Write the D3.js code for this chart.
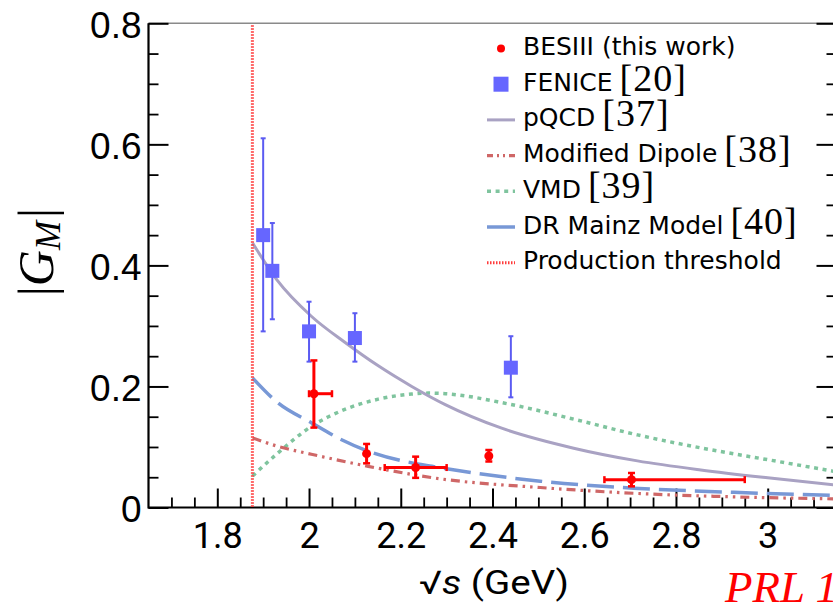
<!DOCTYPE html>
<html><head><meta charset="utf-8">
<script src="https://cdn.jsdelivr.net/npm/d3@7"></script>
<style>body{margin:0;background:#fff}svg{display:block}</style>
</head><body>
<svg id="chart" width="833" height="608"></svg>
<script>
// ---------- data ----------
const besX   = [2.0106, 2.1255, 2.2324, 2.3920, 2.7030];
const besY   = [0.188, 0.089, 0.066, 0.085, 0.046];
const besYlo = [0.132, 0.073, 0.049, 0.076, 0.035];
const besYhi = [0.243, 0.105, 0.084, 0.095, 0.057];
const besXlo = [2.000, 2.1255, 2.165, 2.392, 2.644];
const besXhi = [2.050, 2.1255, 2.300, 2.392, 2.950];

const fenX   = [1.90, 1.92, 2.00, 2.10, 2.44];
const fenY   = [0.450, 0.391, 0.291, 0.280, 0.231];
const fenYlo = [0.291, 0.311, 0.241, 0.241, 0.182];
const fenYhi = [0.610, 0.470, 0.340, 0.321, 0.283];

const pqcdX = [1.877, 1.93, 2.005, 2.078, 2.151, 2.224, 2.297, 2.42, 2.577, 2.716, 2.854, 3.0, 3.15];
const pqcdY = [0.437, 0.376, 0.316, 0.273, 0.234, 0.200, 0.170, 0.131, 0.098, 0.077, 0.062, 0.049, 0.037];

const dipX = [1.877, 1.932, 2.005, 2.129, 2.29, 2.504, 2.708, 2.926, 3.15];
const dipY = [0.115, 0.101, 0.088, 0.068, 0.047, 0.033, 0.0235, 0.0176, 0.0142];

const vmdX = [1.877, 1.932, 2.005, 2.078, 2.151, 2.224, 2.26, 2.297, 2.432, 2.577, 2.716, 2.854, 3.0, 3.15];
const vmdY = [0.052, 0.090, 0.134, 0.162, 0.179, 0.1875, 0.189, 0.188, 0.1715, 0.146, 0.120, 0.0985, 0.079, 0.059];

const drX = [1.877, 1.932, 2.005, 2.071, 2.129, 2.268, 2.30, 2.504, 2.708, 2.926, 3.15];
const drY = [0.214, 0.173, 0.140, 0.112, 0.093, 0.068, 0.064, 0.0435, 0.032, 0.025, 0.020];

const threshold = 1.8765;

const xTicks = [1.8, 2.0, 2.2, 2.4, 2.6, 2.8, 3.0];
const xTickLabels = ["1.8", "2", "2.2", "2.4", "2.6", "2.8", "3"];
const yTicks = [0, 0.2, 0.4, 0.6, 0.8];
const yTickLabels = ["0", "0.2", "0.4", "0.6", "0.8"];

const legendLabels = ["BESIII (this work)", "FENICE", "pQCD", "Modified Dipole", "VMD", "DR Mainz Model", "Production threshold"];
const legendRefs = ["", "[20]", "[37]", "[38]", "[39]", "[40]", ""];

// ---------- drawing ----------
const svg = d3.select("#chart");
const x = d3.scaleLinear().domain([1.65, 3.15]).range([148.5, 836.5]);
const y = d3.scaleLinear().domain([0, 0.8]).range([507.5, 23.3]);

const xMinor = d3.range(1.70, 3.151, 0.05).filter(v => !xTicks.some(t => Math.abs(t - v) < 1e-6));
const yMinor = d3.range(0.05, 0.8, 0.05).filter(v => !yTicks.some(t => Math.abs(t - v) < 1e-6));

svg.append("defs").append("clipPath").attr("id", "plot")
  .append("rect").attr("x", x(1.65)).attr("y", y(0.8)).attr("width", x(3.15) - x(1.65)).attr("height", y(0) - y(0.8));

const styleTicks = (g, w) => { g.select(".domain").remove(); g.selectAll(".tick line").attr("stroke", "#000").attr("stroke-width", w); };

// top frame line
svg.append("line").attr("x1", x(1.65)).attr("x2", x(3.15)).attr("y1", y(0.8)).attr("y2", y(0.8))
  .attr("stroke", "#8a8a8a").attr("stroke-width", 1.6);

// bottom axis
const gxMin = svg.append("g").attr("transform", `translate(0,${y(0)})`)
  .call(d3.axisBottom(x).tickValues(xMinor).tickSize(-10).tickFormat(""));
styleTicks(gxMin, 1.8);
const gxMaj = svg.append("g").attr("transform", `translate(0,${y(0)})`)
  .call(d3.axisBottom(x).tickValues(xTicks).tickSize(-19).tickPadding(15)
    .tickFormat((d, i) => xTickLabels[i]));
styleTicks(gxMaj, 2);
gxMaj.selectAll("text").attr("font-family", "Roboto, sans-serif").attr("font-size", 36).attr("fill", "#000");

// left axis
const gyMin = svg.append("g").attr("transform", `translate(${x(1.65)},0)`)
  .call(d3.axisLeft(y).tickValues(yMinor).tickSize(-10).tickFormat(""));
styleTicks(gyMin, 1.8);
const gyMaj = svg.append("g").attr("transform", `translate(${x(1.65)},0)`)
  .call(d3.axisLeft(y).tickValues(yTicks).tickSize(-20).tickPadding(7)
    .tickFormat((d, i) => yTickLabels[i]));
styleTicks(gyMaj, 2);
gyMaj.selectAll("text").attr("font-family", "'Liberation Sans', Arial, sans-serif").attr("font-size", 37)
  .attr("fill", "#000").attr("dy", "0.37em");

// right axis ticks
const gyR1 = svg.append("g").attr("transform", `translate(${x(3.15)},0)`)
  .call(d3.axisRight(y).tickValues(yMinor).tickSize(-10).tickFormat(""));
styleTicks(gyR1, 1.8);
const gyR2 = svg.append("g").attr("transform", `translate(${x(3.15)},0)`)
  .call(d3.axisRight(y).tickValues(yTicks).tickSize(-20).tickFormat(""));
styleTicks(gyR2, 2);

// axis lines
svg.append("line").attr("x1", x(1.65)).attr("x2", x(3.15)).attr("y1", y(0)).attr("y2", y(0))
  .attr("stroke", "#000").attr("stroke-width", 2.2);
svg.append("line").attr("x1", x(1.65)).attr("x2", x(1.65)).attr("y1", y(0) + 1).attr("y2", y(0.8))
  .attr("stroke", "#000").attr("stroke-width", 2.2);

// curves
const plot = svg.append("g").attr("clip-path", "url(#plot)");
const line = d3.line().x(d => x(d[0])).y(d => y(d[1])).curve(d3.curveMonotoneX);
const curves = [
  {xs: vmdX, ys: vmdY, color: "#7fc49e", w: 3.5, dash: "4,4.6"},
  {xs: pqcdX, ys: pqcdY, color: "#a9a2c3", w: 3, dash: null},
  {xs: dipX, ys: dipY, color: "#cf6767", w: 3.2, dash: "9,5,2.5,5,2.5,5"},
  {xs: drX, ys: drY, color: "#7898d6", w: 3.5, dash: "27,9"}
];
curves.forEach(c => {
  const p = plot.append("path").datum(c.xs.map((v, i) => [v, c.ys[i]]))
    .attr("d", line).attr("fill", "none").attr("stroke", c.color).attr("stroke-width", c.w);
  if (c.dash) p.attr("stroke-dasharray", c.dash);
});

// threshold line
plot.append("line").attr("x1", x(threshold)).attr("x2", x(threshold)).attr("y1", y(0.8) + 2).attr("y2", y(0))
  .attr("stroke", "#ff3b3b").attr("stroke-width", 3).attr("stroke-dasharray", "1.5,1.5");

// FENICE points
const fenColor = "#6666ff", fenBar = "#5b5bf2";
fenX.forEach((xv, i) => {
  const g = svg.append("g");
  g.append("line").attr("x1", x(xv)).attr("x2", x(xv)).attr("y1", y(fenYlo[i])).attr("y2", y(fenYhi[i]))
    .attr("stroke", fenBar).attr("stroke-width", 2);
  [fenYlo[i], fenYhi[i]].forEach(v => g.append("line").attr("x1", x(xv) - 2.5).attr("x2", x(xv) + 2.5)
    .attr("y1", y(v)).attr("y2", y(v)).attr("stroke", fenBar).attr("stroke-width", 2));
  g.append("rect").attr("x", x(xv) - 7).attr("y", y(fenY[i]) - 7).attr("width", 14).attr("height", 14).attr("fill", fenColor);
});

// BESIII points
const red = "#ff0000";
besX.forEach((xv, i) => {
  const g = svg.append("g");
  g.append("line").attr("x1", x(xv)).attr("x2", x(xv)).attr("y1", y(besYlo[i])).attr("y2", y(besYhi[i]))
    .attr("stroke", red).attr("stroke-width", 3);
  [besYlo[i], besYhi[i]].forEach(v => g.append("line").attr("x1", x(xv) - 3.5).attr("x2", x(xv) + 3.5)
    .attr("y1", y(v)).attr("y2", y(v)).attr("stroke", red).attr("stroke-width", 2.5));
  if (besXhi[i] > besXlo[i]) {
    g.append("line").attr("x1", x(besXlo[i])).attr("x2", x(besXhi[i])).attr("y1", y(besY[i])).attr("y2", y(besY[i]))
      .attr("stroke", red).attr("stroke-width", 3);
    [besXlo[i], besXhi[i]].forEach(v => g.append("line").attr("x1", x(v)).attr("x2", x(v))
      .attr("y1", y(besY[i]) - 3.5).attr("y2", y(besY[i]) + 3.5).attr("stroke", red).attr("stroke-width", 2.5));
  }
  g.append("circle").attr("cx", x(xv)).attr("cy", y(besY[i])).attr("r", 4.5).attr("fill", red);
});

// legend
const lg = svg.append("g");
const rowY = i => 55 + i * 35.7;
const symX0 = 487, symX1 = 515, txtX = 523;
legendLabels.forEach((lab, i) => {
  const by = rowY(i), cy = by - 6.5;
  if (i === 0) lg.append("circle").attr("cx", 501).attr("cy", cy).attr("r", 4).attr("fill", red);
  else if (i === 1) lg.append("rect").attr("x", 493.5).attr("y", cy - 7.5).attr("width", 15).attr("height", 15).attr("fill", fenColor);
  else if (i === 6) lg.append("line").attr("x1", symX0).attr("x2", symX1).attr("y1", cy).attr("y2", cy)
      .attr("stroke", "#ff3b3b").attr("stroke-width", 3).attr("stroke-dasharray", "1.5,1.5");
  else {
    const c = [null, null, curves[1], curves[2], curves[0], curves[3]][i];
    const l = lg.append("line").attr("x1", symX0).attr("x2", symX1).attr("y1", cy).attr("y2", cy)
      .attr("stroke", c.color).attr("stroke-width", c.w);
    if (i === 3) l.attr("stroke-dasharray", "6,4,2,4,2,4");
    if (i === 4) l.attr("stroke-dasharray", "4,4.6");
  }
  const t = lg.append("text").attr("x", txtX).attr("y", by)
    .attr("font-family", "'DejaVu Sans', sans-serif").attr("font-size", 25).attr("fill", "#000");
  t.append("tspan").text(lab);
  if (legendRefs[i]) t.append("tspan").attr("dx", 7).attr("font-family", "'Liberation Serif', serif")
    .attr("font-size", 38).attr("letter-spacing", 1).text(legendRefs[i]);
});

// y axis title |G_M|
const yt = svg.append("text").attr("transform", "translate(53,252) rotate(-90)")
  .attr("text-anchor", "middle").attr("font-family", "'Liberation Serif', 'DejaVu Serif', serif")
  .attr("font-size", 50).attr("fill", "#000");
yt.append("tspan").text("|");
yt.append("tspan").attr("font-style", "italic").text("G");
yt.append("tspan").attr("font-style", "italic").attr("font-size", 35).attr("dy", 7).text("M");
yt.append("tspan").attr("dy", -7).attr("dx", 3).text("|");

// x axis title
const xt = svg.append("text").attr("x", 494).attr("y", 594).attr("text-anchor", "middle")
  .attr("font-family", "Roboto, sans-serif").attr("font-size", 33).attr("fill", "#000")
  .attr("textLength", 150).attr("lengthAdjust", "spacingAndGlyphs");
xt.append("tspan").text("\u221A");
xt.append("tspan").attr("font-style", "italic").text("s");
xt.append("tspan").text(" (GeV)");

// journal tag
svg.append("text").attr("x", 725).attr("y", 602)
  .attr("font-family", "'Liberation Serif', serif").attr("font-style", "italic").attr("font-size", 45)
  .attr("fill", "#ff0000").text("PRL 124, 042001 (2020)");
</script>
</body></html>
